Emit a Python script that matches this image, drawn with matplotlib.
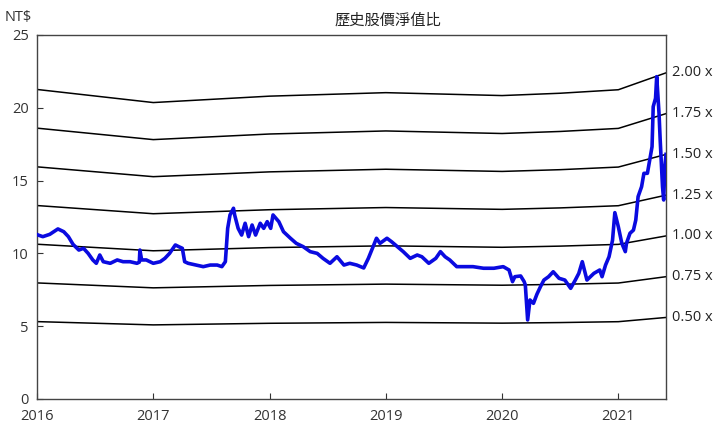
import matplotlib
matplotlib.use('Agg')
import matplotlib.pyplot as plt

plt.rcParams['font.family'] = ['Open Sans', 'Noto Sans CJK TC', 'DejaVu Sans']

# book value per share (NT$) at reporting dates
bv_dates = [2016.0, 2017.0, 2018.0, 2019.0, 2019.4, 2020.0, 2020.5, 2021.0, 2021.41]
bv = [10.63, 10.18, 10.40, 10.52, 10.48, 10.42, 10.50, 10.62, 11.2]
multiples = [0.5, 0.75, 1.0, 1.25, 1.5, 1.75, 2.0]
mult_labels = ['0.50 x', '0.75 x', '1.00 x', '1.25 x', '1.50 x', '1.75 x', '2.00 x']

# share price (NT$)
px_dates = [2016.00, 2016.01, 2016.05, 2016.11, 2016.18, 2016.23, 2016.27, 2016.31, 2016.36, 2016.40,
            2016.44, 2016.48, 2016.51, 2016.54, 2016.57, 2016.63, 2016.69, 2016.74, 2016.80, 2016.86,
            2016.88, 2016.885, 2016.90, 2016.94, 2017.00, 2017.06, 2017.10, 2017.14, 2017.19, 2017.22,
            2017.25, 2017.27, 2017.30, 2017.37, 2017.43, 2017.49, 2017.55, 2017.59, 2017.62, 2017.64,
            2017.66, 2017.69, 2017.70, 2017.73, 2017.76, 2017.79, 2017.82, 2017.85, 2017.88, 2017.92,
            2017.95, 2017.98, 2018.01, 2018.03, 2018.08, 2018.12, 2018.18, 2018.23, 2018.29, 2018.35,
            2018.41, 2018.46, 2018.52, 2018.58, 2018.64, 2018.69, 2018.75, 2018.81, 2018.85, 2018.89,
            2018.92, 2018.95, 2019.01, 2019.05, 2019.10, 2019.15, 2019.21, 2019.27, 2019.31, 2019.37,
            2019.43, 2019.47, 2019.51, 2019.55, 2019.61, 2019.67, 2019.75, 2019.84, 2019.93, 2020.01,
            2020.06, 2020.09, 2020.11, 2020.16, 2020.19, 2020.20, 2020.22, 2020.24, 2020.27, 2020.30,
            2020.33, 2020.36, 2020.40, 2020.44, 2020.49, 2020.54, 2020.59, 2020.63, 2020.66, 2020.69,
            2020.73, 2020.79, 2020.84, 2020.86, 2020.89, 2020.92, 2020.95, 2020.97, 2021.00, 2021.03,
            2021.06, 2021.07, 2021.10, 2021.13, 2021.15, 2021.17, 2021.18, 2021.20, 2021.22, 2021.25,
            2021.27, 2021.29, 2021.30, 2021.32, 2021.33, 2021.35, 2021.36, 2021.38, 2021.39, 2021.40,
            2021.41]
price = [11.3, 11.26, 11.15, 11.31, 11.68, 11.49, 11.15, 10.62, 10.23, 10.35,
         10.0, 9.55, 9.32, 9.89, 9.43, 9.32, 9.55, 9.43, 9.43, 9.32,
         9.4, 10.23, 9.55, 9.55, 9.32, 9.43, 9.66, 10.0, 10.58, 10.46,
         10.35, 9.43, 9.32, 9.2, 9.09, 9.2, 9.2, 9.09, 9.43, 11.72,
         12.64, 13.1, 12.64, 11.72, 11.26, 12.07, 11.15, 11.95, 11.26, 12.07,
         11.72, 12.18, 11.72, 12.64, 12.18, 11.49, 11.04, 10.69, 10.46, 10.12,
         10.0, 9.66, 9.32, 9.77, 9.2, 9.32, 9.2, 9.0, 9.66, 10.46,
         11.04, 10.69, 11.04, 10.8, 10.46, 10.12, 9.66, 9.89, 9.77, 9.32,
         9.66, 10.12, 9.77, 9.55, 9.09, 9.09, 9.09, 8.98, 8.98, 9.09,
         8.86, 8.06, 8.4, 8.45, 8.06, 7.83, 5.43, 6.8, 6.57, 7.2,
         7.71, 8.17, 8.4, 8.74, 8.29, 8.17, 7.6, 8.17, 8.63, 9.43,
         8.17, 8.63, 8.86, 8.4, 9.2, 9.77, 10.9, 12.8, 11.83, 10.69,
         10.12, 10.69, 11.38, 11.6, 12.29, 13.9, 14.13, 14.58, 15.5, 15.5,
         16.41, 17.33, 20.08, 20.65, 22.14, 19.62, 17.79, 14.58, 13.67, 15.95,
         16.8]

years = [2016, 2017, 2018, 2019, 2020, 2021]

fig = plt.figure(figsize=(7.2, 4.38), dpi=100)
ax = fig.add_axes([37/720, 1-399/438, (666-37)/720, (399-35)/438])

for m, lab in zip(multiples, mult_labels):
    band = [b * m for b in bv]
    ax.plot(bv_dates, band, color='black', lw=1.1, zorder=2)
    ax.text(1.01, band[-1], lab, transform=ax.get_yaxis_transform(),
            va='center', ha='left', fontsize=10.5, color='#222222', clip_on=False)

ax.plot(px_dates, price, color='#0a0ae0', lw=2.6, zorder=3)

ax.set_xlim(2016, 2021.41)
ax.set_ylim(0, 25)
ax.set_xticks(years)
ax.set_xticklabels([str(y) for y in years])
ax.set_yticks([0, 5, 10, 15, 20, 25])
ax.tick_params(direction='in', length=4, labelsize=10.5, colors='#333333')
ax.tick_params(axis='x', pad=7)
ax.tick_params(axis='y', pad=6)
for s in ax.spines.values():
    s.set_color('#444444')
    s.set_linewidth(1.0)

fig.text(5/720, 1-17/438, 'NT$', fontsize=10.5, va='center', ha='left', color='#333333')
fig.text(388/720, 1-20/438, '歷史股價淨值比', fontsize=11, va='center', ha='center',
         color='#222222', family=['Noto Sans CJK TC', 'DejaVu Sans'])

fig.savefig('out.png', dpi=100)
